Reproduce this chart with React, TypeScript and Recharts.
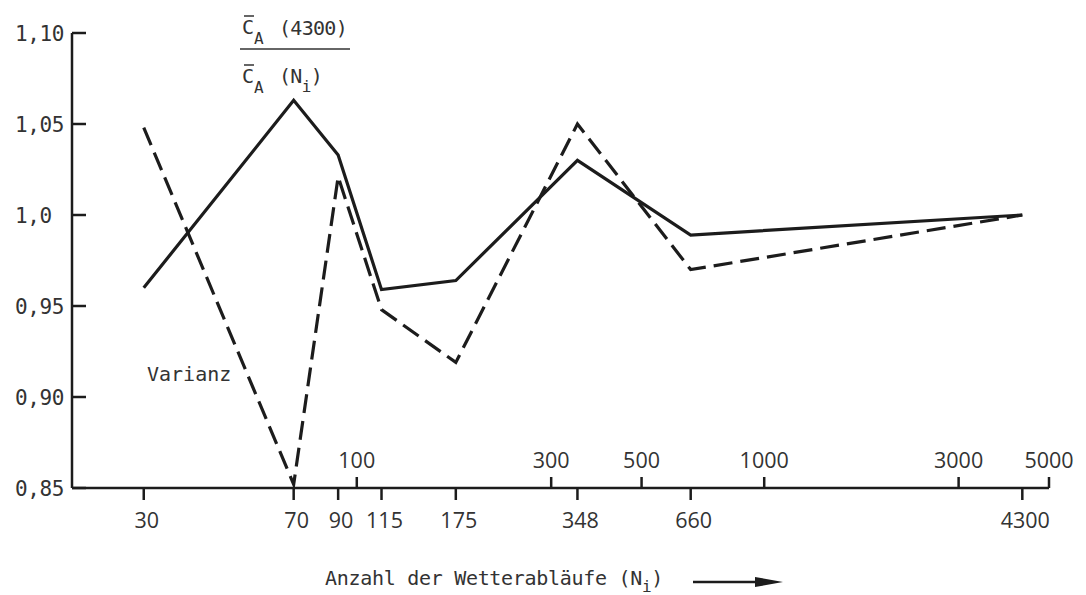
import React from "react";
import { Line, LineChart, XAxis, YAxis } from "recharts";

// Anzahl der Wetterabläufe N_i and the two ratios
const runs = [30, 70, 90, 115, 175, 348, 660, 4300];
const meanRatio = [0.96, 1.063, 1.033, 0.959, 0.964, 1.03, 0.989, 1.0];
const varianceRatio = [1.048, 0.852, 1.021, 0.948, 0.919, 1.05, 0.97, 1.0];

const lowerTicks = [30, 70, 90, 115, 175, 348, 660, 4300];
const upperTicks = [100, 300, 500, 1000, 3000, 5000];
const yTicks = [0.85, 0.9, 0.95, 1.0, 1.05, 1.1];
const yTickLabels = ["0,85", "0,90", "0,95", "1,0", "1,05", "1,10"];

const data = runs.map((n, i) => ({ n, mean: meanRatio[i], variance: varianceRatio[i] }));
const allXTicks = [...lowerTicks, ...upperTicks].sort((a, b) => a - b);

const ink = "#1c1c1c";
const textInk = "#333";
const mono = "'DejaVu Sans Mono', monospace";
const sans = "'Open Sans', sans-serif";

function XTick({ x, y, payload }: any) {
  const v = payload.value;
  const up = upperTicks.includes(v);
  return (
    <g>
      <line x1={x} x2={x} y1={y} y2={up ? y - 11 : y + 12} stroke={ink} strokeWidth={2.5} />
      <text
        x={up ? x : x + 3}
        y={up ? y - 20 : y + 40}
        textAnchor="middle"
        fontFamily={sans}
        fontSize={21.5}
        fill={textInk}
      >
        {v}
      </text>
    </g>
  );
}

function YTick({ x, y, payload }: any) {
  const i = yTicks.indexOf(payload.value);
  return (
    <g>
      <line x1={x} x2={x + 14} y1={y} y2={y} stroke={ink} strokeWidth={2.5} />
      <text x={x - 57} y={y + 8} fontFamily={mono} fontSize={21} letterSpacing={-0.4} fill={textInk}>
        {yTickLabels[i]}
      </text>
    </g>
  );
}

export default function App() {
  return (
    <div style={{ position: "relative", width: 1086, height: 595, background: "#fff" }}>
      <style>{"body{margin:0}"}</style>
      <LineChart width={1086} height={595} data={data} margin={{ top: 33, right: 37, bottom: 47, left: 0 }}>
        <XAxis
          dataKey="n"
          type="number"
          scale="log"
          domain={[20, 5000]}
          allowDataOverflow
          ticks={allXTicks}
          interval={0}
          tick={<XTick />}
          tickLine={false}
          tickSize={0}
          tickMargin={0}
          height={60}
          axisLine={{ stroke: ink, strokeWidth: 2.5 }}
        />
        <YAxis
          type="number"
          domain={[0.85, 1.1]}
          ticks={yTicks}
          interval={0}
          tick={<YTick />}
          tickLine={false}
          tickSize={0}
          tickMargin={0}
          width={72}
          axisLine={{ stroke: ink, strokeWidth: 2.5 }}
        />
        <Line
          type="linear"
          dataKey="mean"
          stroke={ink}
          strokeWidth={3.2}
          dot={false}
          isAnimationActive={false}
        />
        <Line
          type="linear"
          dataKey="variance"
          stroke={ink}
          strokeWidth={3.2}
          strokeDasharray="19 8"
          dot={false}
          isAnimationActive={false}
        />
      </LineChart>
      <svg
        width={1086}
        height={595}
        style={{ position: "absolute", left: 0, top: 0, pointerEvents: "none" }}
      >
        {/* fraction label */}
        <g fontFamily={mono} fill={textInk}>
          <line x1={244} x2={254} y1={16} y2={16} stroke={textInk} strokeWidth={1.5} />
          <text x={242} y={34} fontSize={20}>C</text>
          <text x={254} y={44} fontSize={16}>A</text>
          <text x={279} y={35} fontSize={20} letterSpacing={-0.7}>(4300)</text>
          <line x1={240} x2={350} y1={49} y2={49} stroke={textInk} strokeWidth={1.5} />
          <line x1={244} x2={254} y1={65} y2={65} stroke={textInk} strokeWidth={1.5} />
          <text x={242} y={83} fontSize={20}>C</text>
          <text x={254} y={93} fontSize={16}>A</text>
          <text x={279} y={83} fontSize={20} letterSpacing={-0.7}>
            (N<tspan dy={9} fontSize={16}>i</tspan>
            <tspan dy={-9}>)</tspan>
          </text>
        </g>
        <text x={147} y={381} fontFamily={mono} fontSize={20} fill={textInk}>
          Varianz
        </text>
        <text x={325} y={585} fontFamily={mono} fontSize={20} letterSpacing={-0.3} fill={textInk}>
          Anzahl der Wetterabläufe (N<tspan dy={7} fontSize={16}>i</tspan>
          <tspan dy={-7}>)</tspan>
        </text>
        <line x1={693} x2={760} y1={582} y2={582} stroke={ink} strokeWidth={2.5} />
        <polygon points="755,577 783,582 755,587" fill={ink} />
      </svg>
    </div>
  );
}
